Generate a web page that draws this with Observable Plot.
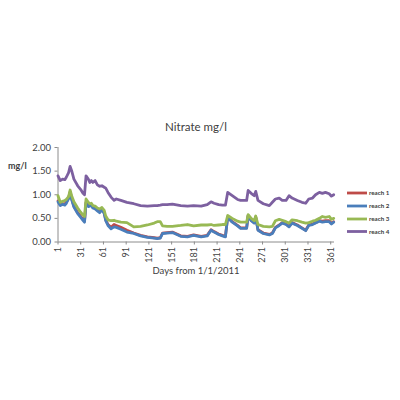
<!DOCTYPE html>
<html>
<head>
<meta charset="utf-8">
<script src="https://cdn.jsdelivr.net/npm/d3@7"></script>
<script src="https://cdn.jsdelivr.net/npm/@observablehq/plot@0.6"></script>
<style>
  html, body { margin: 0; padding: 0; background: #fff; }
  #chart svg { display: block; }
</style>
</head>
<body>
<div id="chart"></div>
<script>
const seriesNames = ["reach 1", "reach 2", "reach 3", "reach 4"];
const seriesColors = ["#BE4B48", "#4A7EBB", "#98B954", "#7D60A0"];
const xTicks = [1, 31, 61, 91, 121, 151, 181, 211, 241, 271, 301, 331, 361];
const yTicks = [0, 0.5, 1, 1.5, 2];

const days = [1,4,7,10,12,15,17,19,22,27,31,34,36,38,41,43,45,47,50,53,56,59,62,64,67,71,75,78,84,92,101,110,119,128,132,136,139,145,152,163,172,180,190,198,203,207,213,218,222,225,231,238,242,250,252,256,260,262,265,272,280,284,288,293,297,302,306,310,317,323,328,332,337,341,346,350,354,359,362,365];

const reach1 = [0.87,0.79,0.81,0.80,0.84,0.94,1.06,0.92,0.76,0.62,0.54,0.48,0.44,0.84,0.77,0.78,0.80,0.74,0.72,0.68,0.64,0.70,0.62,0.47,0.37,0.31,0.37,0.35,0.31,0.25,0.19,0.14,0.11,0.09,0.08,0.09,0.19,0.20,0.21,0.13,0.12,0.15,0.12,0.14,0.26,0.22,0.17,0.14,0.12,0.53,0.43,0.35,0.30,0.30,0.56,0.46,0.41,0.53,0.26,0.19,0.16,0.19,0.31,0.36,0.41,0.38,0.33,0.41,0.36,0.30,0.25,0.36,0.38,0.41,0.45,0.44,0.45,0.45,0.40,0.43];

const reach2 = [0.85,0.77,0.80,0.78,0.82,0.92,1.04,0.90,0.74,0.60,0.52,0.46,0.42,0.82,0.75,0.76,0.78,0.72,0.70,0.66,0.62,0.68,0.60,0.45,0.35,0.28,0.32,0.31,0.27,0.21,0.18,0.13,0.10,0.08,0.07,0.08,0.18,0.19,0.20,0.12,0.11,0.14,0.11,0.13,0.25,0.21,0.16,0.13,0.11,0.52,0.42,0.34,0.29,0.29,0.55,0.45,0.40,0.52,0.25,0.18,0.15,0.18,0.30,0.35,0.40,0.37,0.32,0.40,0.35,0.29,0.24,0.35,0.37,0.40,0.44,0.42,0.43,0.43,0.38,0.42];

const reach3 = [0.98,0.84,0.86,0.88,0.90,0.96,1.10,0.98,0.85,0.72,0.63,0.57,0.54,0.91,0.84,0.81,0.82,0.77,0.76,0.72,0.70,0.73,0.67,0.55,0.47,0.45,0.46,0.44,0.42,0.41,0.32,0.33,0.36,0.40,0.43,0.43,0.34,0.33,0.33,0.35,0.37,0.34,0.36,0.36,0.37,0.35,0.36,0.37,0.37,0.56,0.50,0.44,0.42,0.42,0.58,0.50,0.45,0.55,0.37,0.33,0.32,0.33,0.45,0.48,0.46,0.43,0.40,0.47,0.45,0.42,0.40,0.41,0.44,0.46,0.50,0.54,0.52,0.54,0.48,0.50];

const reach4 = [1.40,1.30,1.33,1.32,1.37,1.47,1.60,1.51,1.33,1.19,1.11,1.03,1.00,1.40,1.33,1.26,1.30,1.26,1.30,1.21,1.18,1.19,1.16,1.14,1.05,0.95,0.88,0.91,0.88,0.84,0.81,0.77,0.76,0.77,0.77,0.78,0.79,0.79,0.80,0.77,0.76,0.77,0.76,0.79,0.85,0.82,0.79,0.78,0.78,1.05,0.98,0.90,0.88,0.88,1.09,1.03,0.98,1.07,0.88,0.81,0.77,0.84,0.91,0.93,0.88,0.88,0.98,0.93,0.88,0.84,0.82,0.91,0.93,1.00,1.05,1.03,1.05,1.02,0.97,1.00];

const allSeries = [reach1, reach2, reach3, reach4];
const data = [];
allSeries.forEach((vals, i) => {
  vals.forEach((v, j) => data.push({series: seriesNames[i], day: days[j], value: v}));
});

const FONT = "Lato, 'Open Sans', sans-serif";
const TXT = "#404040";
const AXIS = "#8c8c8c";

const chart = Plot.plot({
  width: 400,
  height: 400,
  marginTop: 147,
  marginBottom: 158.5,
  marginLeft: 57.5,
  marginRight: 66,
  style: {fontFamily: FONT, fontSize: "9px", color: TXT, background: "#fff"},
  x: {domain: [1, 366]},
  y: {domain: [0, 2]},
  color: {domain: seriesNames, range: seriesColors},
  marks: [
    Plot.axisY({ticks: yTicks, tickFormat: d3.format(".2f"), tickSize: 3, tickPadding: 4, stroke: AXIS, fill: TXT, label: null, fontSize: 9.5}),
    Plot.axisX({ticks: xTicks, tickFormat: d => String(d), tickRotate: -90, tickSize: 3, tickPadding: 2, stroke: AXIS, fill: TXT, label: null, fontSize: 9}),
    Plot.ruleY([0], {stroke: AXIS}),
    Plot.ruleX([1], {stroke: AXIS}),
    Plot.line(data, {x: "day", y: "value", z: "series", stroke: "series", strokeWidth: 2.8, strokeLinejoin: "round", strokeLinecap: "round"})
  ]
});

const svg = d3.select(chart);
svg.append("text").attr("x", 196).attr("y", 131).attr("text-anchor", "middle")
  .attr("font-family", FONT).attr("font-size", 11.5).attr("fill", TXT).text("Nitrate mg/l");
svg.append("text").attr("x", 8).attr("y", 169).attr("text-anchor", "start")
  .attr("font-family", FONT).attr("font-size", 9).attr("font-weight", "bold").attr("fill", TXT).text("mg/l");
svg.append("text").attr("x", 196).attr("y", 274).attr("text-anchor", "middle")
  .attr("font-family", FONT).attr("font-size", 9.5).attr("fill", TXT).text("Days from 1/1/2011");

const legendY = [193, 206, 219, 231.5];
seriesNames.forEach((name, i) => {
  svg.append("line").attr("x1", 347).attr("x2", 367).attr("y1", legendY[i]).attr("y2", legendY[i])
    .attr("stroke", seriesColors[i]).attr("stroke-width", 2.8);
  svg.append("text").attr("x", 369).attr("y", legendY[i]).attr("dy", "0.35em").attr("text-anchor", "start")
    .attr("font-family", FONT).attr("font-size", 6.2).attr("font-weight", "bold").attr("fill", TXT).text(name);
});

document.getElementById("chart").appendChild(chart);
</script>
</body>
</html>
